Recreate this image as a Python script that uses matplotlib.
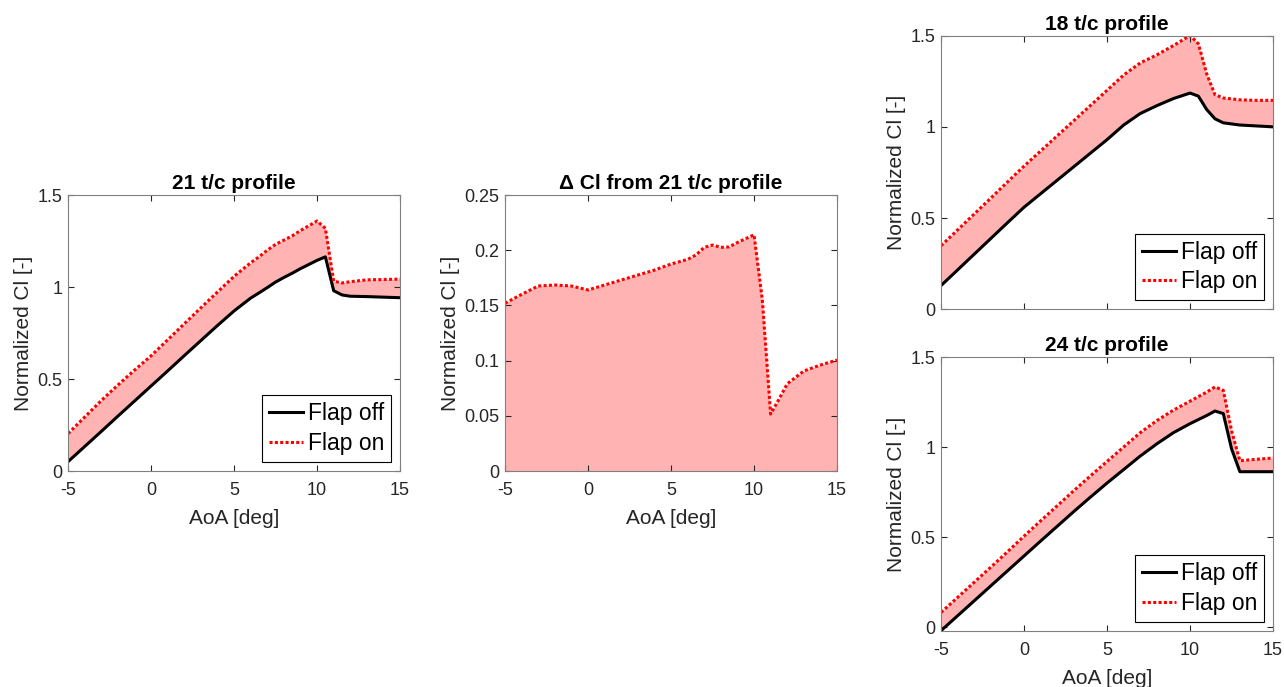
import matplotlib
matplotlib.use("Agg")
import matplotlib.pyplot as plt
from matplotlib.ticker import FormatStrFormatter

plt.rcParams["font.family"] = ["Liberation Sans", "DejaVu Sans"]
plt.rcParams["axes.unicode_minus"] = False

# 21 t/c profile (also used for the delta panel)
aoa_21 = [-5, -4, -3, -2, -1, 0, 1, 2, 3, 4, 5, 6, 6.5, 7, 7.5, 8, 8.5, 9, 10, 10.5, 11, 11.5, 12, 13, 14, 15]
off_21 = [0.051, 0.133, 0.215, 0.298, 0.380, 0.462, 0.544, 0.627, 0.709, 0.791, 0.870, 0.940, 0.968,
          0.997, 1.027, 1.052, 1.075, 1.100, 1.145, 1.164, 0.980, 0.957, 0.950, 0.948, 0.945, 0.942]
on_21 = [0.203, 0.293, 0.383, 0.467, 0.548, 0.626, 0.713, 0.800, 0.887, 0.973, 1.058, 1.132, 1.164,
         1.200, 1.232, 1.255, 1.278, 1.307, 1.359, 1.319, 1.032, 1.022, 1.029, 1.039, 1.041, 1.043]
delta_21 = [0.152, 0.160, 0.1676, 0.1685, 0.1676, 0.164, 0.1685, 0.173, 0.1775, 0.182, 0.1875, 0.1917, 0.1957,
            0.2026, 0.2047, 0.2026, 0.203, 0.207, 0.214, 0.155, 0.0516, 0.065, 0.079, 0.0906, 0.096, 0.1005]

# 18 t/c profile
aoa_18 = [-5, -4, -3, -2, -1, 0, 1, 2, 3, 4, 5, 6, 7, 8, 9, 10, 10.5, 11, 11.5, 12, 13, 14, 15]
off_18 = [0.131, 0.217, 0.303, 0.389, 0.475, 0.560, 0.634, 0.708, 0.782, 0.856, 0.930, 1.010, 1.073,
          1.116, 1.155, 1.185, 1.168, 1.095, 1.044, 1.022, 1.010, 1.005, 1.000]
on_18 = [0.349, 0.436, 0.523, 0.610, 0.698, 0.785, 0.868, 0.951, 1.034, 1.117, 1.200, 1.284, 1.350,
         1.394, 1.445, 1.500, 1.455, 1.290, 1.176, 1.158, 1.148, 1.145, 1.145]

# 24 t/c profile
aoa_24 = [-5, -4, -3, -2, -1, 0, 1, 2, 3, 4, 5, 6, 7, 8, 9, 10, 11, 11.5, 12, 12.5, 13, 14, 15]
off_24 = [-0.020, 0.063, 0.146, 0.229, 0.312, 0.395, 0.478, 0.560, 0.642, 0.722, 0.800, 0.875, 0.950,
          1.018, 1.080, 1.130, 1.175, 1.200, 1.186, 0.990, 0.863, 0.863, 0.863]
on_24 = [0.081, 0.165, 0.249, 0.333, 0.418, 0.505, 0.590, 0.674, 0.758, 0.840, 0.920, 1.000, 1.080,
         1.147, 1.205, 1.255, 1.305, 1.334, 1.315, 1.090, 0.924, 0.932, 0.939]

x_ticks = [-5, 0, 5, 10, 15]
cl_ticks = [0, 0.5, 1, 1.5]
delta_ticks = [0, 0.05, 0.1, 0.15, 0.2, 0.25]

FILL = "#FFB3B3"
DOTS = (0, (1, 0.75))
LW = 2.2


def style_axes(ax, yticks, xlabels=True):
    ax.set_xlim(-5, 15)
    ax.set_xticks(x_ticks)
    ax.set_yticks(yticks)
    ax.yaxis.set_major_formatter(FormatStrFormatter("%g"))
    ax.tick_params(direction="in", length=4, width=0.8, top=True, right=True,
                   labelsize=13, colors="#262626")
    ax.tick_params(axis="y", pad=4)
    ax.tick_params(axis="x", pad=8)
    if not xlabels:
        ax.tick_params(labelbottom=False)
    for spine in ax.spines.values():
        spine.set_color("#808080")
        spine.set_linewidth(0.8)
    ax.set_ylabel("Normalized Cl [-]", fontsize=15, color="#262626", labelpad=3)
    if xlabels:
        ax.set_xlabel("AoA [deg]", fontsize=15, color="#262626", labelpad=7)


def profile_panel(ax, aoa, off, on, title, ylim, xlabels=True):
    ax.fill_between(aoa, off, on, color=FILL, lw=0)
    ax.plot(aoa, off, color="black", lw=LW, label="Flap off")
    ax.plot(aoa, on, color="red", lw=LW, linestyle=DOTS, label="Flap on")
    ax.set_ylim(*ylim)
    ax.set_title(title, fontsize=15, fontweight="bold", pad=4)
    style_axes(ax, cl_ticks, xlabels)
    leg = ax.legend(loc="lower right", fontsize=16.5, fancybox=False, framealpha=1,
                    edgecolor="black", handlelength=1.5, handletextpad=0.2,
                    borderpad=0.3, labelspacing=0.3, borderaxespad=0.4)
    leg.get_frame().set_linewidth(0.8)


fig = plt.figure(figsize=(12.84, 6.87), dpi=100)

ax21 = fig.add_axes([0.0530, 0.3144, 0.2586, 0.4017])
profile_panel(ax21, aoa_21, off_21, on_21, "21 t/c profile", (0, 1.5))

axd = fig.add_axes([0.3933, 0.3144, 0.2586, 0.4017])
axd.fill_between(aoa_21, 0, delta_21, color=FILL, lw=0)
axd.plot(aoa_21, delta_21, color="red", lw=LW, linestyle=DOTS)
axd.set_ylim(0, 0.25)
axd.set_title("\u0394 Cl from 21 t/c profile", fontsize=15, fontweight="bold", pad=4)
style_axes(axd, delta_ticks)

ax18 = fig.add_axes([0.7329, 0.5495, 0.2586, 0.3988])
profile_panel(ax18, aoa_18, off_18, on_18, "18 t/c profile", (0, 1.5), xlabels=False)

ax24 = fig.add_axes([0.7329, 0.0815, 0.2586, 0.3988])
profile_panel(ax24, aoa_24, off_24, on_24, "24 t/c profile", (-0.022, 1.5))

fig.savefig("out.png", dpi=100)
